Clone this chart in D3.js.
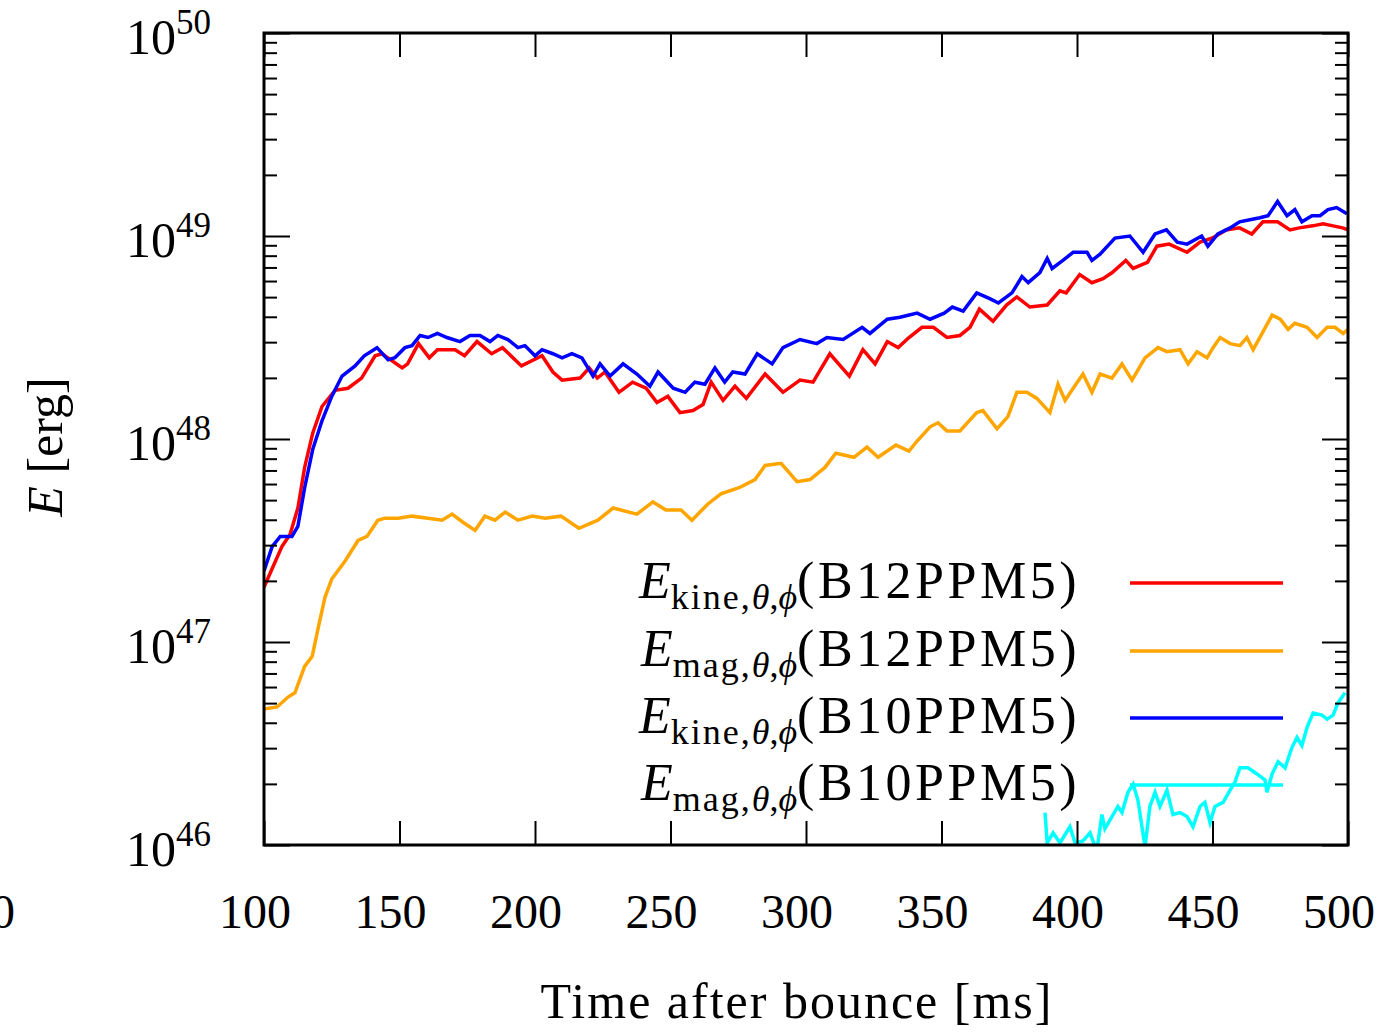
<!DOCTYPE html>
<html>
<head>
<meta charset="utf-8">
<script src="https://cdn.jsdelivr.net/npm/d3@7"></script>
<style>
  body { margin: 0; background: #fff; }
  svg { display: block; }
  text { font-family: "Liberation Serif", "Times New Roman", serif; fill: #000; }
  .domain { display: none; }
  .tick line { stroke: #000; stroke-width: 2; }
</style>
</head>
<body>
<div id="chart"></div>
<script>
// time after bounce [ms], log10 of energy [erg]
var kineB12 = [[100,47.27],[106.6,47.47],[109.6,47.53],[112.5,47.66],[115,47.86],[118,48.03],[121.4,48.16],[126.2,48.24],[131,48.25],[136,48.30],[141,48.41],[143.5,48.42],[151,48.35],[153,48.37],[157,48.47],[161,48.40],[164,48.44],[170.5,48.44],[174,48.41],[178.6,48.48],[184,48.42],[188,48.45],[195,48.36],[202.6,48.41],[206.6,48.33],[210,48.29],[216.6,48.30],[220,48.35],[223,48.30],[225.8,48.33],[231,48.23],[236,48.28],[241,48.25],[245,48.18],[249,48.21],[253.5,48.13],[258.3,48.14],[262,48.17],[265,48.28],[269.4,48.19],[273.8,48.26],[278,48.20],[284.9,48.32],[291.5,48.23],[297.8,48.29],[302.6,48.28],[308.8,48.42],[316,48.31],[321,48.44],[325.5,48.37],[330,48.48],[334,48.45],[338,48.50],[342.8,48.55],[347,48.55],[352,48.50],[356.8,48.51],[360.5,48.55],[364,48.64],[369,48.58],[374,48.66],[377.8,48.70],[382.6,48.65],[389,48.66],[393.7,48.73],[396,48.72],[401,48.81],[405.5,48.77],[409.6,48.79],[413,48.82],[418,48.88],[420.7,48.84],[426,48.87],[429.5,48.95],[434,48.96],[440.6,48.92],[445.4,48.97],[450,48.99],[455,49.03],[460,49.04],[464.5,49.01],[468.6,49.07],[474,49.07],[478.6,49.03],[482,49.04],[487,49.05],[490.8,49.06],[494.5,49.05],[498,49.04],[500,49.03]];

var magB12 = [[100,46.67],[104.8,46.68],[109,46.73],[111.4,46.75],[115,46.88],[117.8,46.93],[120,47.07],[122.5,47.22],[125,47.31],[130,47.40],[134.7,47.50],[138,47.52],[142,47.60],[144.6,47.61],[149.5,47.61],[154.6,47.62],[160.5,47.61],[165.7,47.60],[169.4,47.63],[173.4,47.59],[177.9,47.55],[181.5,47.62],[185.2,47.60],[189,47.64],[193.7,47.60],[199,47.62],[203.7,47.61],[209.6,47.62],[216.2,47.56],[223.2,47.60],[228.8,47.66],[237.6,47.63],[243.5,47.69],[248.3,47.65],[253.9,47.65],[257.9,47.60],[263.8,47.68],[268.6,47.73],[275.3,47.76],[281.2,47.80],[284.9,47.87],[290.8,47.88],[296.7,47.79],[301.5,47.80],[307,47.86],[311,47.93],[317.7,47.91],[322.5,47.96],[326.6,47.91],[333.2,47.97],[338,47.94],[341,47.99],[345.8,48.06],[348.7,48.08],[352,48.04],[356.8,48.04],[363,48.13],[365.3,48.14],[370.5,48.05],[374.5,48.11],[377.8,48.23],[381.5,48.23],[385.2,48.20],[390,48.13],[393,48.27],[395.6,48.19],[398.6,48.25],[402.2,48.32],[405.5,48.23],[408.5,48.32],[412.9,48.30],[416.6,48.37],[420.3,48.29],[425.1,48.40],[429.9,48.45],[433.2,48.43],[438,48.44],[441,48.37],[444.3,48.43],[448,48.40],[450.2,48.45],[452.8,48.50],[456.5,48.47],[460.1,48.46],[462.7,48.50],[465,48.44],[468.3,48.52],[472,48.61],[475,48.59],[477.9,48.54],[480.4,48.57],[484.9,48.55],[488.6,48.50],[492.3,48.55],[495.2,48.55],[498.2,48.52],[500,48.54]];

var kineB10 = [[100,47.35],[103,47.47],[106,47.52],[110.3,47.52],[112.5,47.57],[115,47.76],[118,47.95],[121.4,48.09],[125,48.21],[128.8,48.31],[133.6,48.36],[137,48.41],[141.7,48.45],[145.8,48.39],[148.3,48.40],[152,48.45],[154.6,48.46],[157.6,48.51],[160.5,48.50],[164,48.52],[167.5,48.50],[172.3,48.48],[176,48.51],[179.7,48.51],[183.4,48.48],[186.3,48.51],[190,48.49],[193.7,48.45],[196.3,48.46],[200,48.41],[202.6,48.44],[206.6,48.42],[210,48.40],[213.6,48.42],[217.3,48.40],[221.4,48.31],[224,48.37],[227.7,48.31],[232.5,48.37],[237.6,48.32],[242.4,48.26],[245.4,48.33],[251,48.25],[255.4,48.23],[259,48.28],[262.7,48.27],[266.4,48.35],[270,48.28],[273,48.33],[277.5,48.32],[282,48.42],[287.5,48.37],[291.5,48.45],[297.8,48.49],[304,48.47],[307.7,48.50],[313.7,48.49],[320.7,48.55],[323.6,48.52],[330,48.59],[334.7,48.60],[341,48.62],[345.8,48.59],[351,48.62],[354,48.65],[358,48.63],[363,48.72],[368,48.69],[371,48.67],[376,48.72],[379.7,48.80],[382,48.77],[386.3,48.82],[389,48.89],[390.8,48.84],[394.8,48.88],[398.6,48.92],[403.7,48.92],[405.5,48.88],[408.5,48.91],[414,48.99],[419.5,49.00],[424.4,48.92],[428.8,49.01],[433,49.03],[437,48.97],[440.6,48.96],[446,49.00],[448.3,48.95],[452,49.01],[456.5,49.04],[460,49.07],[463.8,49.08],[467.5,49.09],[470.5,49.10],[474,49.17],[477.5,49.10],[480.4,49.13],[483,49.07],[486.7,49.10],[489.7,49.10],[492.6,49.13],[495.8,49.14],[499.6,49.11]];

var magB10 = [[388.2,46.16],[389,46.01],[391.2,46.06],[393.7,46.01],[397.4,46.09],[399.3,46.01],[402.2,46.02],[404.8,46.06],[407.3,45.97],[409.2,46.15],[410.3,46.08],[412.9,46.14],[415.1,46.19],[416.6,46.16],[418.8,46.26],[420.7,46.30],[422.5,46.22],[425.1,45.99],[426.9,46.19],[428.8,46.26],[430.6,46.19],[433.2,46.27],[435.4,46.15],[438,46.16],[440.6,46.14],[442.8,46.09],[445.4,46.19],[447.2,46.21],[449.1,46.11],[450.9,46.19],[453.9,46.21],[456.5,46.27],[458.3,46.31],[460.1,46.38],[463.1,46.38],[466.4,46.35],[469.4,46.32],[470.1,46.26],[472,46.35],[474.2,46.41],[476.8,46.38],[479.3,46.48],[481.2,46.53],[483,46.49],[484.9,46.58],[487.1,46.65],[490.4,46.64],[492.3,46.62],[494.5,46.64],[496.3,46.70],[498.9,46.75]];

var seriesNames = ["kine", "mag", "kine", "mag"];
var seriesModels = ["B12PPM5", "B12PPM5", "B10PPM5", "B10PPM5"];
var seriesColors = ["#ff0000", "#ffa500", "#0000ff", "#00ffff"];
var seriesData = [kineB12, magB12, kineB10, magB10];

var xTicks = [100, 150, 200, 250, 300, 350, 400, 450, 500];
var yDecades = [46, 47, 48, 49, 50];

var width = 1383, height = 1036;
var plotL = 264, plotR = 1348, plotT = 33, plotB = 845;

var svg = d3.select('#chart').append('svg').attr('width', width).attr('height', height);

var x = d3.scaleLinear().domain([100, 500]).range([plotL, plotR]);
var y = d3.scaleLog().domain([1e46, 1e50]).range([plotB, plotT]);

var yMajor = yDecades.map(function (d) { return Math.pow(10, d); });
var yMinor = [];
yDecades.slice(0, -1).forEach(function (d) {
  for (var k = 2; k <= 9; k++) yMinor.push(k * Math.pow(10, d));
});

// curves
var clip = svg.append('clipPath').attr('id', 'plotclip');
clip.append('rect').attr('x', plotL).attr('y', plotT).attr('width', plotR - plotL).attr('height', plotB - plotT);

var line = d3.line()
  .x(function (d) { return x(d[0]); })
  .y(function (d) { return y(Math.pow(10, d[1])); });

var curves = svg.append('g').attr('clip-path', 'url(#plotclip)');
seriesData.forEach(function (s, i) {
  curves.append('path').datum(s)
    .attr('d', line)
    .attr('fill', 'none')
    .attr('stroke', seriesColors[i])
    .attr('stroke-width', 3.5)
    .attr('stroke-linejoin', 'miter');
});

// ticks, all pointing inward
svg.append('g').attr('transform', 'translate(0,' + plotB + ')')
  .call(d3.axisBottom(x).tickValues(xTicks).tickSize(-24).tickFormat(''));
svg.append('g').attr('transform', 'translate(0,' + plotT + ')')
  .call(d3.axisTop(x).tickValues(xTicks).tickSize(-24).tickFormat(''));
svg.append('g').attr('transform', 'translate(' + plotL + ',0)')
  .call(d3.axisLeft(y).tickValues(yMajor).tickSize(-26).tickFormat(''));
svg.append('g').attr('transform', 'translate(' + plotL + ',0)')
  .call(d3.axisLeft(y).tickValues(yMinor).tickSize(-13).tickFormat(''));
svg.append('g').attr('transform', 'translate(' + plotR + ',0)')
  .call(d3.axisRight(y).tickValues(yMajor).tickSize(-26).tickFormat(''));
svg.append('g').attr('transform', 'translate(' + plotR + ',0)')
  .call(d3.axisRight(y).tickValues(yMinor).tickSize(-13).tickFormat(''));

// frame
svg.append('rect').attr('x', plotL).attr('y', plotT).attr('width', plotR - plotL).attr('height', plotB - plotT)
  .attr('fill', 'none').attr('stroke', '#000').attr('stroke-width', 3);

// tick labels
svg.append('g').selectAll('text').data(xTicks).enter().append('text')
  .attr('x', function (d) { return x(d) - 9; })
  .attr('y', 928)
  .attr('text-anchor', 'middle')
  .style('font-size', '48px')
  .text(function (d) { return d; });

// cut-off label at the left edge
svg.append('text').attr('x', 3).attr('y', 928).attr('text-anchor', 'middle')
  .style('font-size', '48px').text('0');

var yl = svg.append('g').selectAll('text').data(yDecades).enter().append('text')
  .attr('x', 211)
  .attr('y', function (d) { return y(Math.pow(10, d)) + 21; })
  .attr('text-anchor', 'end')
  .style('font-size', '50px');
yl.append('tspan').text('10');
yl.append('tspan').attr('dy', -20).style('font-size', '35px').text(function (d) { return d; });

// legend
var legendY = [583, 651, 718, 785];
var legend = svg.append('g');
seriesNames.forEach(function (nm, i) {
  var t = legend.append('text')
    .attr('x', 1080).attr('y', legendY[i] + 15)
    .attr('text-anchor', 'end')
    .style('font-size', '52px');
  t.append('tspan').style('font-style', 'italic').text('E');
  t.append('tspan').attr('dy', 11).style('font-size', '36px').attr('letter-spacing', '2').text(nm + ',');
  t.append('tspan').style('font-size', '36px').style('font-style', 'italic').text('θ');
  t.append('tspan').style('font-size', '36px').text(',');
  t.append('tspan').style('font-size', '36px').style('font-style', 'italic').text('ϕ');
  t.append('tspan').attr('dy', -11).attr('letter-spacing', '3.5').text('(' + seriesModels[i] + ')');
  legend.append('line')
    .attr('x1', 1130).attr('x2', 1283)
    .attr('y1', legendY[i]).attr('y2', legendY[i])
    .attr('stroke', seriesColors[i]).attr('stroke-width', 3.5);
});

// axis titles
svg.append('text')
  .attr('transform', 'translate(62,447) rotate(-90)')
  .attr('text-anchor', 'middle')
  .style('font-size', '50px')
  .html('<tspan font-style="italic">E</tspan> [erg]');

svg.append('text')
  .attr('x', 797).attr('y', 1018)
  .attr('text-anchor', 'middle')
  .attr('letter-spacing', '2')
  .style('font-size', '50px')
  .text('Time after bounce [ms]');
</script>
</body>
</html>
